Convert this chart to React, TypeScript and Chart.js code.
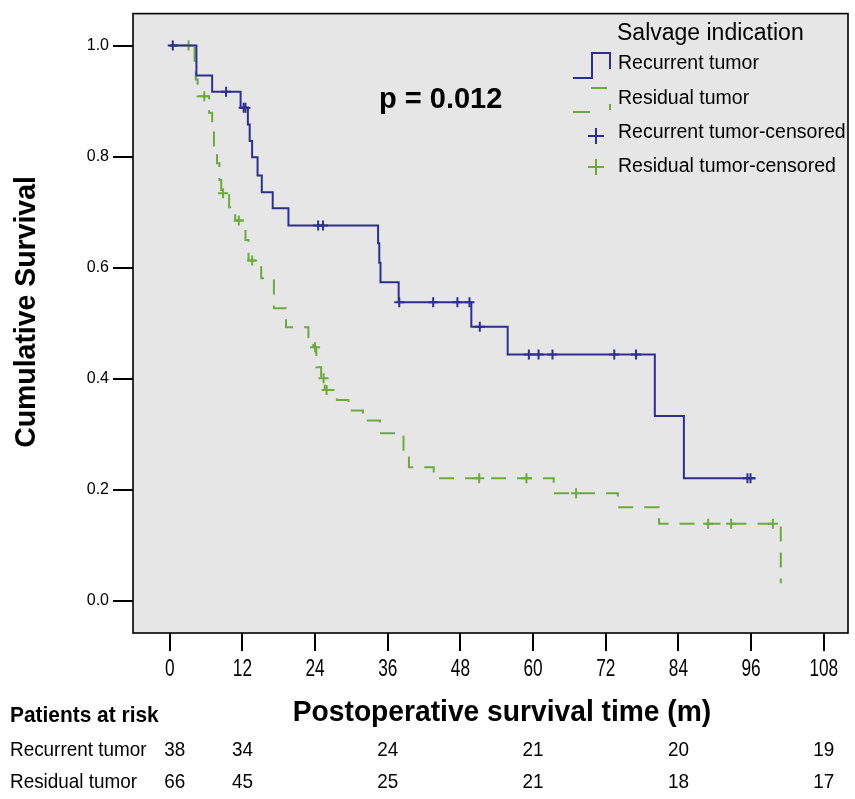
import React, { useEffect, useRef } from 'react';
import { Chart, registerables } from 'chart.js';

Chart.register(...registerables);

// ---- Data ----
const recurrentTimes = [0, 4.4, 7.0, 11.7, 12.9, 13.2, 13.6, 14.5, 15.2, 17.0, 19.6, 34.4, 34.6, 34.8, 37.8, 49.8, 55.8, 80.1, 84.9, 96.7];
const recurrentSurvival = [1, 0.946, 0.917, 0.888, 0.858, 0.828, 0.799, 0.766, 0.736, 0.707, 0.676, 0.644, 0.609, 0.574, 0.538, 0.494, 0.444, 0.333, 0.221, 0.221];
const recurrentCensorTimes = [0.5, 9.3, 12.2, 12.5, 24.5, 25.3, 37.9, 43.5, 47.5, 49.5, 51.2, 59.3, 60.9, 63.2, 73.4, 77.0, 95.4, 95.9];
const recurrentCensorSurvival = [1, 0.917, 0.888, 0.888, 0.676, 0.676, 0.538, 0.538, 0.538, 0.538, 0.494, 0.444, 0.444, 0.444, 0.444, 0.444, 0.221, 0.221];

const residualTimes = [0, 4.1, 4.3, 4.6, 6.5, 7.0, 7.3, 7.8, 8.2, 8.5, 9.8, 10.8, 12.5, 13.0, 15.1, 17.2, 19.2, 22.9, 23.7, 24.2, 25.0, 25.6, 27.6, 29.5, 31.9, 34.7, 38.6, 39.5, 43.6, 63.4, 74.0, 80.8, 100.9];
const residualSurvival = [1, 0.970, 0.939, 0.909, 0.879, 0.849, 0.818, 0.788, 0.758, 0.734, 0.709, 0.685, 0.650, 0.613, 0.581, 0.527, 0.493, 0.475, 0.457, 0.421, 0.401, 0.380, 0.362, 0.343, 0.325, 0.302, 0.268, 0.241, 0.221, 0.194, 0.169, 0.139, 0.032];
const residualCensorTimes = [3.1, 5.7, 8.8, 11.4, 13.6, 24.0, 25.4, 25.9, 51.1, 58.9, 67.1, 88.9, 92.7, 99.6];
const residualCensorSurvival = [1, 0.909, 0.734, 0.685, 0.613, 0.457, 0.401, 0.380, 0.221, 0.221, 0.194, 0.139, 0.139, 0.139];

const xTicks = [0, 12, 24, 36, 48, 60, 72, 84, 96, 108];
const yTicks = [0, 0.2, 0.4, 0.6, 0.8, 1.0];

const atRiskMonths = [0, 12, 36, 60, 84, 108];
const recurrentAtRisk = [38, 34, 24, 21, 20, 19];
const residualAtRisk = [66, 45, 25, 21, 18, 17];

const legendTitle = 'Salvage indication';
const seriesNames = ['Recurrent tumor', 'Residual tumor', 'Recurrent tumor-censored', 'Residual tumor-censored'];
const pValueText = 'p = 0.012';
const xTitle = 'Postoperative survival time (m)';
const yTitle = 'Cumulative Survival';
const riskTitle = 'Patients at risk';
const riskRowNames = ['Recurrent tumor', 'Residual tumor'];

const BLUE = '#2d2f8f';
const GREEN = '#6bab3c';
const FONT = "'Liberation Sans', Arial, sans-serif";

const pts = (xs: number[], ys: number[]) => xs.map((x, i) => ({ x, y: ys[i] }));

// draws horizontally condensed text (SPSS-like narrow face)
const narrowText = (ctx: any, text: string, x: number, y: number, sx: number, align: string) => {
  ctx.save();
  ctx.translate(x, y);
  ctx.scale(sx, 1);
  ctx.textAlign = align;
  ctx.fillText(text, 0, 0);
  ctx.restore();
};

const annot = {
  id: 'annot',
  beforeDraw(chart: any) {
    const { ctx, chartArea: a } = chart;
    ctx.save();
    ctx.fillStyle = '#e6e6e6';
    ctx.fillRect(a.left, a.top, a.right - a.left, a.bottom - a.top);
    ctx.restore();
  },
  afterDraw(chart: any) {
    const { ctx, chartArea: a, scales } = chart;
    const xs = scales.x;
    ctx.save();
    // frame
    ctx.strokeStyle = '#000';
    ctx.lineWidth = 1.6;
    ctx.strokeRect(a.left, a.top, a.right - a.left, a.bottom - a.top);

    ctx.fillStyle = '#000';
    ctx.textBaseline = 'middle';

    // x tick labels (narrow face)
    ctx.font = `23px ${FONT}`;
    xTicks.forEach((v) => narrowText(ctx, String(v), xs.getPixelForValue(v), 670, 0.75, 'center'));

    // p value
    ctx.font = `bold 29px ${FONT}`;
    narrowText(ctx, pValueText, 379, 100, 1.0, 'left');

    // legend
    ctx.textAlign = 'left';
    ctx.font = `23px ${FONT}`;
    ctx.fillText(legendTitle, 617, 34);
    ctx.font = `19.5px ${FONT}`;
    const ly = [64, 99, 133, 167];
    seriesNames.forEach((n, i) => ctx.fillText(n, 618, ly[i]));
    // blue step symbol
    ctx.lineWidth = 2;
    ctx.strokeStyle = BLUE;
    ctx.beginPath();
    ctx.moveTo(573, 78); ctx.lineTo(592, 78); ctx.lineTo(592, 53); ctx.lineTo(610, 53); ctx.lineTo(610, 69);
    ctx.stroke();
    // green dashed step symbol
    ctx.strokeStyle = GREEN;
    ctx.beginPath();
    ctx.moveTo(573, 112); ctx.lineTo(590, 112);
    ctx.moveTo(591, 88); ctx.lineTo(607, 88);
    ctx.moveTo(610, 104); ctx.lineTo(610, 110);
    ctx.stroke();
    // crosses
    const cross = (cx: number, cy: number, col: string) => {
      ctx.strokeStyle = col;
      ctx.beginPath();
      ctx.moveTo(cx - 8, cy); ctx.lineTo(cx + 8, cy);
      ctx.moveTo(cx, cy - 8); ctx.lineTo(cx, cy + 8);
      ctx.stroke();
    };
    cross(596, 136, BLUE);
    cross(596, 167, GREEN);

    // axis titles
    ctx.fillStyle = '#000';
    ctx.font = `bold 30px ${FONT}`;
    narrowText(ctx, xTitle, 502, 713, 0.94, 'center');
    ctx.save();
    ctx.translate(27, 312);
    ctx.rotate(-Math.PI / 2);
    ctx.font = `bold 29px ${FONT}`;
    narrowText(ctx, yTitle, 0, 0, 0.98, 'center');
    ctx.restore();

    // at-risk table
    ctx.font = `bold 22px ${FONT}`;
    narrowText(ctx, riskTitle, 10, 716, 0.95, 'left');
    ctx.font = `21px ${FONT}`;
    const rowY = [750, 782];
    riskRowNames.forEach((n, i) => narrowText(ctx, n, 10, rowY[i], 0.9, 'left'));
    atRiskMonths.forEach((m, i) => {
      const px = xs.getPixelForValue(m) + (i === 0 ? 5 : 0);
      narrowText(ctx, String(recurrentAtRisk[i]), px, rowY[0], 0.9, 'center');
      narrowText(ctx, String(residualAtRisk[i]), px, rowY[1], 0.9, 'center');
    });
    ctx.restore();
  },
};

export default function App() {
  const ref = useRef<HTMLCanvasElement | null>(null);
  useEffect(() => {
    if (!ref.current) return;
    const chart = new Chart(ref.current, {
      type: 'line',
      data: {
        datasets: [
          {
            label: seriesNames[0],
            data: pts(recurrentTimes, recurrentSurvival),
            borderColor: BLUE,
            borderWidth: 2,
            pointRadius: 0,
            stepped: 'before',
            fill: false,
          },
          {
            label: seriesNames[2],
            data: pts(recurrentCensorTimes, recurrentCensorSurvival),
            showLine: false,
            pointStyle: 'cross',
            pointRadius: 5,
            borderColor: BLUE,
            backgroundColor: BLUE,
            pointBorderWidth: 2,
          },
          {
            label: seriesNames[1],
            data: pts(residualTimes, residualSurvival),
            borderColor: GREEN,
            borderWidth: 2,
            borderDash: [15, 11],
            pointRadius: 0,
            stepped: 'before',
            fill: false,
          },
          {
            label: seriesNames[3],
            data: pts(residualCensorTimes, residualCensorSurvival),
            showLine: false,
            pointStyle: 'cross',
            pointRadius: 5,
            borderColor: GREEN,
            backgroundColor: GREEN,
            pointBorderWidth: 2,
          },
        ],
      },
      options: {
        animation: false,
        responsive: false,
        devicePixelRatio: 1,
        layout: { padding: { top: 13, right: 2, left: 0, bottom: 0 } },
        plugins: { legend: { display: false }, tooltip: { enabled: false }, title: { display: false } },
        scales: {
          x: {
            type: 'linear',
            min: -6.07,
            max: 112,
            afterBuildTicks: (s: any) => { s.ticks = xTicks.map((v) => ({ value: v })); },
            afterFit: (s: any) => { s.height = 166; },
            border: { display: false },
            grid: { drawOnChartArea: false, drawTicks: true, tickLength: 18, color: '#000', lineWidth: 2 },
            ticks: { display: false },
          },
          y: {
            type: 'linear',
            min: -0.0576,
            max: 1.0576,
            afterBuildTicks: (s: any) => { s.ticks = yTicks.map((v) => ({ value: v })); },
            afterFit: (s: any) => { s.width = 133; },
            border: { display: false },
            grid: { drawOnChartArea: false, drawTicks: true, tickLength: 20, color: '#000', lineWidth: 2 },
            ticks: { color: '#000', padding: 4, callback: (v: any) => Number(v).toFixed(1), font: { family: FONT, size: 16 } },
          },
        },
      },
      plugins: [annot],
    });
    return () => chart.destroy();
  }, []);
  return (
    <div style={{ position: 'absolute', left: 0, top: 0, width: 855, height: 799, background: '#fff' }}>
      <canvas ref={ref} width={855} height={799} style={{ width: 855, height: 799, display: 'block' }} />
    </div>
  );
}
